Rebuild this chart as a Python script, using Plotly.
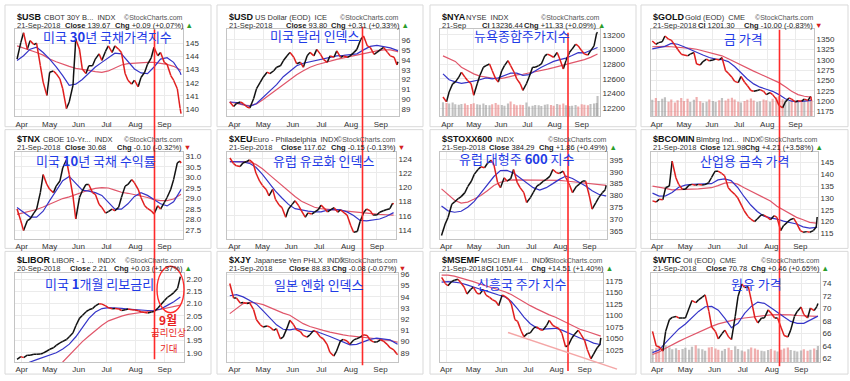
import datetime as dt
import plotly.graph_objects as go

W, H = 850, 381
def PX(x): return x / W
def PY(y): return 1 - y / H

# ---------------- data ----------------
dates = ["2018-03-29","2018-04-02","2018-04-05","2018-04-09","2018-04-12","2018-04-16","2018-04-19","2018-04-23","2018-04-26","2018-04-30",
         "2018-05-03","2018-05-07","2018-05-10","2018-05-14","2018-05-17","2018-05-21","2018-05-24","2018-05-28","2018-05-31",
         "2018-06-04","2018-06-07","2018-06-11","2018-06-14","2018-06-18","2018-06-21","2018-06-25","2018-06-28",
         "2018-07-02","2018-07-05","2018-07-09","2018-07-12","2018-07-16","2018-07-19","2018-07-23","2018-07-26","2018-07-30",
         "2018-08-02","2018-08-06","2018-08-09","2018-08-13","2018-08-16","2018-08-20","2018-08-23","2018-08-27","2018-08-30",
         "2018-09-03","2018-09-06","2018-09-10","2018-09-13","2018-09-17","2018-09-20","2018-09-21"]
ma_dates = ["2018-03-29","2018-04-05","2018-04-12","2018-04-19","2018-04-26","2018-05-03","2018-05-10","2018-05-17","2018-05-24",
            "2018-05-31","2018-06-07","2018-06-14","2018-06-21","2018-06-28","2018-07-05","2018-07-12","2018-07-19","2018-07-26",
            "2018-08-02","2018-08-09","2018-08-16","2018-08-23","2018-08-30","2018-09-06","2018-09-13","2018-09-20","2018-09-21"]
month_ticks = ["2018-04-03","2018-05-03","2018-06-03","2018-07-03","2018-08-03","2018-09-03"]
month_labels = ["Apr","May","Jun","Jul","Aug","Sep"]

usb_close = [143.8,145.05,145.8,144.55,145.2,144.9,145.0,143.3,142.05,141.05,
             142.8,142.9,142.7,142.3,141.55,140.05,140.55,141.8,145.3,
             144.55,143.05,142.7,143.3,143.3,143.8,144.2,143.7,
             144.4,144.8,144.3,144.8,144.55,144.3,142.7,142.2,141.9,
             142.2,141.7,142.4,142.8,143.4,143.9,144.7,144.05,144.3,
             143.55,143.4,142.55,142.2,141.55,140.05,139.67]
usb_ma_blue = [143.7,144.05,144.55,144.7,144.3,143.8,143.2,142.55,141.8,141.9,142.25,142.7,143.2,143.55,143.9,144.25,144.2,143.6,143.05,142.75,142.7,143.2,143.8,143.9,143.55,142.8,142.6]
usb_ma_red = [144.8,144.65,144.5,144.3,144.1,143.8,143.6,143.4,143.25,143.1,143.05,142.95,142.85,142.8,142.9,143.15,143.35,143.45,143.5,143.55,143.55,143.55,143.5,143.4,143.25,143.0,142.95]

usd_close = [89.75,89.3,89.6,89.75,89.6,89.25,89.15,90.1,91.1,91.75,
             92.25,92.75,92.6,92.9,93.25,93.4,93.9,94.4,94.75,
             94.25,93.6,93.75,93.25,94.4,94.75,94.4,95.05,
             94.55,94.05,93.75,94.4,94.25,94.9,94.25,94.4,94.25,
             94.4,94.75,95.05,96.05,96.4,95.4,95.25,94.55,94.75,
             95.05,95.25,94.75,94.4,94.25,93.49,93.80]
usd_ma_blue = [89.75,89.7,89.5,89.3,89.6,90.2,90.8,91.5,92.3,92.9,93.4,93.65,93.8,93.95,94.15,94.3,94.4,94.45,94.5,94.6,95.0,95.35,95.45,95.35,95.2,94.95,94.9]
usd_ma_red = [89.75,89.6,89.45,89.4,89.55,90.0,90.5,91.0,91.5,92.05,92.5,92.9,93.25,93.5,93.7,93.9,94.05,94.2,94.35,94.5,94.65,94.8,94.9,95.0,95.0,94.85,94.8]

nya_close = [12355,12288,12423,12535,12557,12625,12692,12625,12580,12535,
             12378,12535,12647,12760,12782,12805,12715,12602,12557,
             12715,12782,12850,12782,12692,12602,12535,12445,
             12535,12625,12760,12760,12782,12805,12917,12940,12917,
             12894,12962,12872,12737,12850,12962,13007,13074,13052,
             12984,12940,12926,12984,13052,13225,13236.44]
nya_ma_blue = [12670,12590,12560,12540,12555,12570,12590,12615,12602,12615,12650,12680,12680,12650,12660,12715,12760,12800,12840,12865,12885,12920,12960,12955,12985,13020,13030]
nya_ma_red = [12915,12880,12840,12760,12715,12670,12640,12625,12610,12600,12615,12640,12655,12665,12680,12700,12715,12735,12755,12775,12795,12815,12840,12865,12895,12930,12940]
nya_volume = [4.0,3.8,3.6,3.9,3.4,3.3,3.5,3.6,3.2,3.5, 3.7,3.4,3.3,3.6,3.2,3.1,3.4,3.8,3.3,
              3.2,3.0,3.6,4.2,3.4,3.1,3.3,3.2, 3.9,2.8,3.0,3.2,3.1,2.9,3.3,3.4,3.2,
              3.0,3.5,3.3,3.6,3.1,2.9,3.0,3.2,2.8, 3.4,3.3,3.1,3.5,3.6,3.8,5.8]

gold_close = [1346,1338,1342,1344,1358,1350,1348,1336,1326,1314,
              1312,1310,1314,1318,1290,1288,1296,1302,1298,
              1300,1302,1300,1306,1274,1268,1258,1248,
              1245,1260,1246,1238,1226,1224,1226,1228,1224,
              1216,1221,1216,1205,1190,1184,1198,1208,1205,
              1198,1201,1200,1205,1202,1211.3,1201.3]
gold_ma_blue = [1327,1330,1333,1340,1338,1332,1325,1318,1312,1306,1302,1301,1296,1284,1268,1254,1242,1234,1229,1224,1216,1206,1200,1199,1200,1202,1202]
gold_ma_red = [1332,1333,1333,1332,1331,1330,1328,1326,1322,1319,1315,1310,1303,1295,1288,1280,1273,1266,1259,1252,1245,1235,1224,1216,1212,1210,1209]
gold_volume = [4.5,5.0,4.2,4.8,5.2,4.0,4.6,3.8,4.4,5.0, 4.2,4.8,3.9,4.5,5.3,4.1,3.7,4.0,4.6,
               4.2,3.9,4.4,5.0,4.3,4.8,5.1,4.6, 4.0,3.8,4.2,4.5,4.9,4.3,3.9,4.1,4.6,
               4.4,4.0,4.8,5.2,5.5,4.7,4.4,4.1,4.6, 4.3,4.0,4.5,4.8,4.2,4.6,4.3]

tnx_close = [28.5,27.95,27.48,27.95,28.03,28.31,28.5,29.28,30.14,29.67,
             29.44,29.28,29.59,29.83,30.45,30.84,30.14,29.13,28.03,
             29.05,29.36,29.67,29.67,29.28,29.2,28.73,28.58,
             28.31,28.38,28.5,28.42,28.58,29.05,29.59,29.67,29.9,
             29.75,29.44,29.05,28.66,28.53,28.42,28.27,28.66,28.5,
             28.81,29.05,29.44,29.9,30.69,30.78,30.68]
tnx_ma_blue = [28.58,28.35,28.12,28.12,28.4,28.9,29.35,29.85,30.05,29.7,29.4,29.35,29.28,29.15,28.8,28.5,28.5,28.75,29.1,29.28,29.15,28.95,28.75,28.65,28.85,29.35,29.44]
tnx_ma_red = [28.25,28.33,28.4,28.48,28.6,28.73,28.88,29.0,29.08,29.2,29.3,29.4,29.48,29.52,29.5,29.4,29.3,29.25,29.2,29.12,29.05,28.95,28.9,28.9,28.98,29.15,29.2]

xeu_close = [124.1,123.3,123.0,122.9,123.4,123.6,123.85,123.4,122.0,120.85,
             120.25,119.7,118.8,119.7,118.3,117.5,117.15,115.8,116.95,
             117.6,118.1,117.4,116.7,115.8,116.4,116.25,116.5,
             116.85,117.5,117.0,116.55,116.9,117.15,116.5,116.85,116.4,
             116.1,114.6,113.7,113.8,115.2,116.5,116.95,116.7,116.1,
             116.1,116.5,116.7,116.85,117.0,117.77,117.62]
xeu_ma_blue = [123.6,123.6,123.55,123.35,122.8,121.8,120.6,119.45,118.5,117.6,117.0,116.8,116.65,116.55,116.55,116.8,116.9,116.85,116.55,116.05,115.35,115.3,115.45,115.55,115.9,116.4,116.45]
xeu_ma_red = [123.6,123.6,123.6,123.55,123.2,122.6,121.8,121.0,120.2,119.4,118.7,118.05,117.6,117.2,117.0,116.9,116.85,116.8,116.7,116.55,116.4,116.35,116.3,116.2,116.15,116.1,116.1]

stoxx_close = [363.1,368.0,370.7,376.3,377.3,378.7,379.5,381.2,383.7,386.1,
               388.9,391.0,392.1,391.7,393.5,394.9,393.0,385.4,383.3,
               387.5,386.1,387.1,391.0,385.4,383.3,381.2,377.0,
               379.1,381.2,384.0,384.7,386.1,386.8,388.2,391.0,389.6,
               389.3,390.3,387.5,384.3,381.2,383.7,384.7,386.1,386.1,
               379.8,374.2,377.0,379.1,381.2,382.43,384.29]
stoxx_ma_blue = [375.5,373.5,372.9,373.3,375.0,377.5,381.0,384.6,388.0,390.5,390.6,389.5,387.5,385.5,383.3,382.3,383.3,385.0,386.8,388.2,387.2,385.6,384.0,382.0,380.5,379.8,379.8]
stoxx_ma_red = [382.8,380.5,378.0,376.8,377.2,378.5,380.0,382.0,384.2,385.6,386.3,386.6,386.6,386.5,386.4,386.4,386.5,386.6,386.4,386.1,385.8,385.5,385.3,385.0,384.6,384.3,384.3]

bcomin_close = [128.75,128.3,129.4,129.2,134.3,135.0,145.5,138.5,135.7,133.6,
                133.6,135.3,135.7,135.3,135.7,135.4,135.6,136.4,138.5,
                141.25,141.25,140.3,139.4,134.3,132.9,131.5,130.1,
                127.0,124.6,122.2,121.1,120.0,121.1,122.8,122.8,121.8,
                120.8,122.5,121.8,116.25,118.3,119.7,120.8,121.4,119.4,
                116.25,115.55,115.8,115.55,116.25,117.77,121.98]
bcomin_ma_blue = [132.0,130.8,130.9,132.3,134.5,135.4,135.7,135.7,135.7,136.0,137.6,138.0,137.3,134.4,130.5,127.0,124.3,122.3,121.6,121.1,120.2,119.6,119.0,117.8,117.3,117.6,117.6]
bcomin_ma_red = [135.0,134.6,134.0,133.4,133.4,133.6,133.7,133.8,134.0,134.3,135.2,136.2,136.5,135.8,134.3,132.9,131.5,130.2,128.7,126.5,125.0,123.5,121.8,120.8,119.7,119.4,119.4]

libor_close = [1.873,1.884,1.88,1.89,1.89,1.894,1.894,1.895,1.898,1.907,
               1.914,1.92,1.93,1.94,1.946,1.954,1.965,1.981,2.01,
               2.041,2.052,2.067,2.075,2.08,2.091,2.10,2.098,
               2.091,2.083,2.079,2.08,2.078,2.072,2.075,2.078,2.075,
               2.074,2.071,2.067,2.064,2.062,2.066,2.068,2.082,2.095,
               2.113,2.125,2.136,2.145,2.162,2.21,None]
libor_ma_blue = [1.84,1.852,1.862,1.872,1.882,1.893,1.90,1.915,1.935,1.965,2.005,2.04,2.066,2.08,2.084,2.084,2.081,2.078,2.075,2.073,2.072,2.073,2.078,2.093,2.108,2.127,None]
libor_ma_red = [1.76,1.775,1.79,1.80,1.815,1.83,1.845,1.862,1.89,1.92,1.945,1.968,1.99,2.012,2.03,2.04,2.049,2.056,2.061,2.065,2.068,2.071,2.076,2.082,2.088,2.094,None]

xjy_close = [95.2,93.9,93.9,93.45,93.5,93.4,93.45,92.85,91.95,91.5,
             91.3,91.4,91.3,91.0,91.15,90.25,90.4,91.2,91.9,
             91.5,91.05,90.9,90.55,90.4,90.6,91.0,90.85,
             90.4,90.25,89.75,89.05,88.7,89.15,90.05,90.2,90.05,
             89.75,90.15,90.25,90.4,90.6,90.55,90.15,89.95,89.95,
             90.15,90.05,89.75,89.45,89.25,88.91,88.83]
xjy_ma_blue = [94.1,94.2,94.0,93.7,93.35,92.75,92.15,91.5,91.1,91.05,91.15,91.05,90.9,90.9,90.7,90.45,90.2,89.95,89.7,89.75,90.0,90.2,90.3,90.25,90.15,89.8,89.75]
xjy_ma_red = [92.5,92.95,93.4,93.5,93.45,93.3,93.05,92.75,92.55,92.35,92.0,91.6,91.35,91.15,91.0,90.85,90.7,90.6,90.5,90.45,90.4,90.3,90.25,90.15,90.1,89.95,89.95]

msemf_close = [1182,1169,1164,1173,1176,1178,1171,1161,1146,1156,
               1161,1148,1146,1156,1144,1139,1134,1130,1121,
               1144,1141,1135,1125,1091,1087,1066,1054,
               1061,1062,1073,1075,1069,1068,1078,1089,1078,
               1075,1071,1061,1032,1035,1051,1059,1068,1059,
               1046,1026,1006,1016,1030,1036.93,1051.44]
msemf_ma_blue = [1172,1173,1172,1170,1166,1161,1157,1153,1148,1144,1140,1130,1114,1096,1082,1073,1070,1071,1072,1068,1062,1056,1050,1046,1040,1037,1037]
msemf_ma_red = [1187,1187,1185,1181,1178,1173,1168,1164,1159,1156,1151,1145,1137,1128,1121,1114,1107,1101,1096,1089,1083,1076,1069,1065,1060,1056,1055]

wtic_close = [66.3,63.95,63.85,63.15,66.3,68.2,68.55,68.7,68.45,68.45,
              68.45,70.05,71.25,70.9,71.35,71.8,72.15,69.5,67.0,
              66.3,65.1,65.95,66.5,65.4,65.0,68.7,71.9,
              73.9,73.35,73.45,71.35,68.45,67.65,68.45,68.45,69.75,
              69.25,68.45,68.45,66.85,65.65,65.4,66.5,68.7,69.5,
              70.2,69.0,68.45,70.05,69.65,70.32,70.78]
wtic_ma_blue = [62.9,63.3,64.5,65.6,66.7,67.5,68.5,69.5,70.25,70.3,69.7,68.4,66.9,67.6,69.2,70.3,71.0,70.8,70.1,69.3,68.6,67.9,67.6,67.6,68.1,68.7,68.75]
wtic_ma_red = [62.6,63.0,63.6,64.2,64.7,65.2,65.7,66.2,66.7,67.1,67.5,67.8,68.05,68.3,68.45,68.6,68.7,68.85,68.95,69.0,69.0,68.95,68.85,68.8,68.75,68.7,68.7]
wtic_volume = [3.5,3.8,4.2,3.6,4.4,3.9,3.4,3.7,3.2,3.5, 3.8,3.3,4.1,4.5,3.6,3.4,3.0,3.9,4.0,
               3.6,3.3,3.0,3.5,3.8,3.2,4.2,3.5, 3.1,2.8,3.4,3.9,3.6,3.3,3.0,2.9,3.2,
               3.5,3.1,2.8,3.3,3.6,3.9,3.2,3.0,2.8, 3.1,3.4,3.0,3.3,3.6,3.2,4.3]

# ---------------- panel configuration ----------------
UP = '<span style="color:#2a9d2a">▲</span>'
DN = '<span style="color:#d42020">▼</span>'
panels = [
    dict(sym="$USB", desc="CBOT 30Y B...  INDX", dx=42, date="21-Sep-2018", cl="<b>Close</b> 139.67", chg="<b>Chg</b> +0.09 (+0.07%) " + UP,
         title="미국 <b>30</b>년 국채가격지수", tpos=(108, 34), c=usb_close, b=usb_ma_blue, r=usb_ma_red,
         yr=(139.475, 146.05), yt=[140, 141, 142, 143, 144, 145], fmt="{:.0f}", pr=183, xr=(-5.2, 175.1), cx=(63, 113)),
    dict(sym="$USD", desc="US Dollar (EOD)  ICE", dx=253, date="21-Sep-2018", cl="<b>Close</b> 93.80", chg="<b>Chg</b> +0.31 (+0.33%) " + UP,
         title="미국 달러 인덱스", tpos=(315, 33), c=usd_close, b=usd_ma_blue, r=usd_ma_red,
         yr=(88.33, 97.06), yt=[89, 90, 91, 92, 93, 94, 95, 96], fmt="{:.0f}", pr=187, xr=(-5.9, 174.1), cx=(284, 329)),
    dict(sym="$NYA", desc="NYSE  INDX", dx=464, date="21-Sep", cl="<b>Cl</b> 13236.44", chg="<b>Chg</b> +11.33 (+0.09%) " + UP,
         title="뉴욕종합주가지수", tpos=(522, 33), c=nya_close, b=nya_ma_blue, r=nya_ma_red, v=nya_volume, vmax=25,
         yr=(12094, 13276), yt=[12200, 12400, 12600, 12800, 13000, 13200], fmt="{:.0f}", pr=175, xr=(-6.4, 175.8), cx=(480, 522)),
    dict(sym="$GOLD", desc="Gold (EOD)  CME", dx=683, date="21-Sep-2018", cl="<b>Cl</b> 1201.30", chg="<b>Chg</b> -10.00 (-0.83%) " + DN,
         title="금 가격", tpos=(743, 36), c=gold_close, b=gold_ma_blue, r=gold_ma_red, v=gold_volume, vmax=24,
         yr=(1163.9, 1374), yt=[1175, 1200, 1225, 1250, 1275, 1300, 1325, 1350], fmt="{:.0f}", pr=178, xr=(-4.4, 175.7), cx=(696, 742)),
    dict(sym="$TNX", desc="CBOE 10-Yr...  INDX", dx=41, date="21-Sep-2018", cl="<b>Close</b> 30.68", chg="<b>Chg</b> -0.10 (-0.32%) " + DN,
         title="미국 <b>10</b>년 국채 수익률", tpos=(96, 159), c=tnx_close, b=tnx_ma_blue, r=tnx_ma_red,
         yr=(27.09, 31.19), yt=[27.5, 28.0, 28.5, 29.0, 29.5, 30.0, 30.5, 31.0], fmt="{:.1f}", pr=183, xr=(-5.2, 175.1), cx=(63, 115)),
    dict(sym="$XEU", desc="Euro - Philadelphia  INDX", dx=251, date="21-Sep-2018", cl="<b>Close</b> 117.62", chg="<b>Chg</b> -0.15 (-0.13%) " + DN,
         title="유럽 유로화 인덱스", tpos=(324, 159), c=xeu_close, b=xeu_ma_blue, r=xeu_ma_red,
         yr=(112.78, 124.88), yt=[114, 116, 118, 120, 122, 124], fmt="{:.0f}", pr=184, xr=(-6.1, 175.6), cx=(279, 329)),
    dict(sym="$STOXX600", desc="INDX", dx=494, date="21-Sep-2018", cl="<b>Close</b> 384.29", chg="<b>Chg</b> +1.86 (+0.49%) " + UP,
         title="유럽 대형주 <b>600</b> 지수", tpos=(517, 157), c=stoxx_close, b=stoxx_ma_blue, r=stoxx_ma_red,
         yr=(361.67, 398.2), yt=[365, 370, 375, 380, 385, 390, 395], fmt="{:.0f}", pr=182, xr=(-4.6, 173.9), cx=(487, 537)),
    dict(sym="$BCOMIN", desc="Blmbrg Ind...  INDX", dx=694, date="21-Sep-2018", cl="<b>Close</b> 121.98", chg="<b>Chg</b> +4.21 (+3.58%) " + UP,
         title="산업용 금속 가격", tpos=(745, 159), c=bcomin_close, b=bcomin_ma_blue, r=bcomin_ma_red,
         yr=(112.78, 149.17), yt=[115, 120, 125, 130, 135, 140, 145], fmt="{:.0f}", pr=182, xr=(-4.6, 173.9), cx=(698, 743)),
    dict(sym="$LIBOR", desc="LIBOR - 1 ...  INDX", dx=50, date="20-Sep-2018", cl="<b>Close</b> 2.21", chg="<b>Chg</b> +0.03 (+1.37%) " + UP,
         title="미국 <b>1</b>개월 리보금리", tpos=(99, 283), c=libor_close, b=libor_ma_blue, r=libor_ma_red,
         yr=(1.8626, 2.2255), yt=[1.90, 1.95, 2.00, 2.05, 2.10, 2.15, 2.20], fmt="{:.2f}", pr=184, xr=(-5.2, 175.9), cx=(68, 112)),
    dict(sym="$XJY", desc="Japanese Yen PHLX  INDX", dx=252, date="21-Sep-2018", cl="<b>Close</b> 88.83", chg="<b>Chg</b> -0.08 (-0.07%) " + DN,
         title="일본 엔화 인덱스", tpos=(319, 284), c=xjy_close, b=xjy_ma_blue, r=xjy_ma_red,
         yr=(88.18, 96.15), yt=[89, 90, 91, 92, 93, 94, 95, 96], fmt="{:.0f}", pr=186, xr=(-5.9, 173.4), cx=(287, 330)),
    dict(sym="$MSEMF", desc="MSCI EMF I...  INDX", dx=479, date="21-Sep-2018", cl="<b>Cl</b> 1051.44", chg="<b>Chg</b> +14.51 (+1.40%) " + UP,
         title="신흥국 주가 지수", tpos=(522, 283), c=msemf_close, b=msemf_ma_blue, r=msemf_ma_red,
         yr=(999.3, 1192), yt=[1025, 1050, 1075, 1100, 1125, 1150, 1175], fmt="{:.0f}", pr=178, xr=(-4.8, 175.4), cx=(484, 529)),
    dict(sym="$WTIC", desc="Oil (EOD)  CME", dx=681, date="21-Sep-2018", cl="<b>Close</b> 70.78", chg="<b>Chg</b> +0.46 (+0.65%) " + UP,
         title="원유 가격", tpos=(756, 283), c=wtic_close, b=wtic_ma_blue, r=wtic_ma_red, v=wtic_volume, vmax=24,
         yr=(61.41, 75.69), yt=[62, 64, 66, 68, 70, 72, 74], fmt="{:.0f}", pr=184, xr=(-4.6, 175.2), cx=(704, 749)),
]

COL_X = [0, 212, 425, 636]
ROW_PLOT = [(26.7, 114.3), (151.0, 238.3), (272.7, 362.7)]
ROW_H1 = [14.0, 137.7, 259.3]
ROW_H2 = [22.7, 145.7, 268.3]
BASE = dt.datetime(2018, 4, 1)
def off_date(o): return (BASE + dt.timedelta(days=o)).strftime("%Y-%m-%d %H:%M")

FONT = "Liberation Sans, Arial, sans-serif"
KFONT = "Noto Sans CJK KR, sans-serif"

fig = go.Figure()
layout = dict(width=W, height=H, margin=dict(l=0, r=0, t=0, b=0), showlegend=False,
              paper_bgcolor="white", plot_bgcolor="white")
annotations, shapes = [], []

# panel frames
FR_X = [(5, 211), (217, 423), (430, 636), (641, 848)]
FR_Y = [(2, 125), (128, 248), (251, 375)]
for (x0, x1) in FR_X:
    for (y0, y1) in FR_Y:
        shapes.append(dict(type="rect", xref="paper", yref="paper", x0=PX(x0), x1=PX(x1), y0=PY(y1), y1=PY(y0),
                           line=dict(color="#d9d9d9", width=1), layer="below"))

extra = 13
for i, p in enumerate(panels):
    n = i + 1
    col, row = i % 4, i // 4
    ox = COL_X[col]
    left, right = ox + 15, ox + p["pr"]
    top, bot = ROW_PLOT[row]
    xname = f"x{n}"
    has_vol = "v" in p
    if has_vol:
        yname = f"y{extra}"
        layout[f"yaxis{n}"] = dict(domain=[PY(bot), PY(top)], anchor=xname, range=[0, p["vmax"]],
                                   visible=False, fixedrange=True)
        layout[f"yaxis{extra}"] = dict(overlaying=f"y{n}", anchor=xname, side="right")
        pyax = f"yaxis{extra}"
        extra += 1
    else:
        yname = f"y{n}"
        pyax = f"yaxis{n}"
        layout[pyax] = dict(domain=[PY(bot), PY(top)], anchor=xname, side="right")
    layout[pyax].update(range=list(p["yr"]), tickvals=p["yt"], ticktext=[p["fmt"].format(t) for t in p["yt"]],
                        showgrid=True, gridcolor="#ebebeb", gridwidth=1, zeroline=False,
                        showline=True, mirror=True, linecolor="#c4c4c4", linewidth=1,
                        ticks="", tickfont=dict(family=FONT, size=8, color="#333"))
    layout[f"xaxis{n}"] = dict(domain=[PX(left), PX(right)], anchor=yname, type="date",
                               range=[off_date(p["xr"][0]), off_date(p["xr"][1])],
                               tickvals=month_ticks, ticktext=month_labels,
                               showgrid=True, gridcolor="#ebebeb", zeroline=False,
                               showline=True, mirror=True, linecolor="#c4c4c4", linewidth=1,
                               ticks="", tickfont=dict(family=FONT, size=8, color="#333"))

    closes = p["c"]
    if has_vol:
        cols = []
        for j, vv in enumerate(p["v"]):
            if j > 0 and closes[j] is not None and closes[j - 1] is not None and closes[j] < closes[j - 1]:
                cols.append("rgba(232,130,130,0.65)")
            else:
                cols.append("rgba(150,150,150,0.6)")
        fig.add_trace(go.Bar(x=dates, y=p["v"], marker=dict(color=cols, line=dict(width=0)),
                             width=2.4 * 86400000, xaxis=xname, yaxis=f"y{n}", hoverinfo="skip"))

    fig.add_trace(go.Scatter(x=ma_dates, y=p["r"], mode="lines", line=dict(color="#e0566a", width=1.2),
                             xaxis=xname, yaxis=yname, connectgaps=False))
    fig.add_trace(go.Scatter(x=ma_dates, y=p["b"], mode="lines", line=dict(color="#3535c8", width=1.2),
                             xaxis=xname, yaxis=yname, connectgaps=False))
    ux, uy, dx_, dy_ = [], [], [], []
    for j in range(len(closes) - 1):
        a, b = closes[j], closes[j + 1]
        if a is None or b is None:
            continue
        if b >= a:
            ux += [dates[j], dates[j + 1], None]; uy += [a, b, None]
        else:
            dx_ += [dates[j], dates[j + 1], None]; dy_ += [a, b, None]
    fig.add_trace(go.Scatter(x=ux, y=uy, mode="lines", line=dict(color="#111111", width=1.5),
                             xaxis=xname, yaxis=yname, connectgaps=False))
    fig.add_trace(go.Scatter(x=dx_, y=dy_, mode="lines", line=dict(color="#e01e1e", width=1.5),
                             xaxis=xname, yaxis=yname, connectgaps=False))

    # headers
    hx = ox + 15
    annotations.append(dict(xref="paper", yref="paper", x=PX(hx), y=PY(ROW_H1[row]), xanchor="left", yanchor="middle",
                            showarrow=False, text=f"<b>{p['sym']}</b>", font=dict(family=FONT, size=9, color="#111")))
    annotations.append(dict(xref="paper", yref="paper", x=PX(p["dx"]), y=PY(ROW_H1[row] + 0.5), xanchor="left",
                            yanchor="middle", showarrow=False, text=p["desc"], font=dict(family=FONT, size=7.5, color="#333")))
    annotations.append(dict(xref="paper", yref="paper", x=PX(ox + p["pr"] + 2), y=PY(ROW_H1[row] + 0.5), xanchor="right",
                            yanchor="middle", showarrow=False, text="©StockCharts.com",
                            font=dict(family=FONT, size=7, color="#555")))
    annotations.append(dict(xref="paper", yref="paper", x=PX(hx), y=PY(ROW_H2[row]), xanchor="left", yanchor="middle",
                            showarrow=False, text=p["date"], font=dict(family=FONT, size=7.5, color="#333")))
    annotations.append(dict(xref="paper", yref="paper", x=PX(p["cx"][0]), y=PY(ROW_H2[row]), xanchor="left",
                            yanchor="middle", showarrow=False, text=p["cl"], font=dict(family=FONT, size=7.5, color="#222")))
    annotations.append(dict(xref="paper", yref="paper", x=PX(p["cx"][1]), y=PY(ROW_H2[row]), xanchor="left",
                            yanchor="middle", showarrow=False, text=p["chg"], font=dict(family=FONT, size=7.5, color="#222")))
    # Korean title
    annotations.append(dict(xref="paper", yref="paper", x=PX(p["tpos"][0]), y=PY(p["tpos"][1]), xanchor="center",
                            yanchor="middle", showarrow=False, text=p["title"],
                            font=dict(family=KFONT, size=13, color="#1f3be6")))

# vertical red marker lines (annotations)
for (xx, y0, y1) in [(154.5, 27, 360), (362.5, 24, 366), (568, 30, 372), (779.5, 27, 367)]:
    shapes.append(dict(type="line", xref="paper", yref="paper", x0=PX(xx), x1=PX(xx), y0=PY(y1), y1=PY(y0),
                       line=dict(color="#ff2a2a", width=1.6)))
# LIBOR ellipse and notes
shapes.append(dict(type="circle", xref="paper", yref="paper", x0=PX(157), x1=PX(184), y0=PY(313), y1=PY(266),
                   line=dict(color="#ff2a2a", width=1.4)))
for txt, yy, sz in [("<b>9월</b>", 320, 12), ("금리인상", 332, 9.5), ("기대", 349, 9.5)]:
    annotations.append(dict(xref="paper", yref="paper", x=PX(168), y=PY(yy), xanchor="center", yanchor="middle",
                            showarrow=False, text=txt, font=dict(family=KFONT, size=sz, color="#e81e1e")))
# MSEMF trend line
shapes.append(dict(type="line", xref="paper", yref="paper", x0=PX(508), y0=PY(333), x1=PX(617), y1=PY(370),
                   line=dict(color="#f4a6a6", width=1.5)))

layout["annotations"] = annotations
layout["shapes"] = shapes
fig.update_layout(**layout)
fig.write_html("out.html", config={"displayModeBar": False},
               post_script="document.body.style.margin='0';document.body.style.overflow='hidden';")
